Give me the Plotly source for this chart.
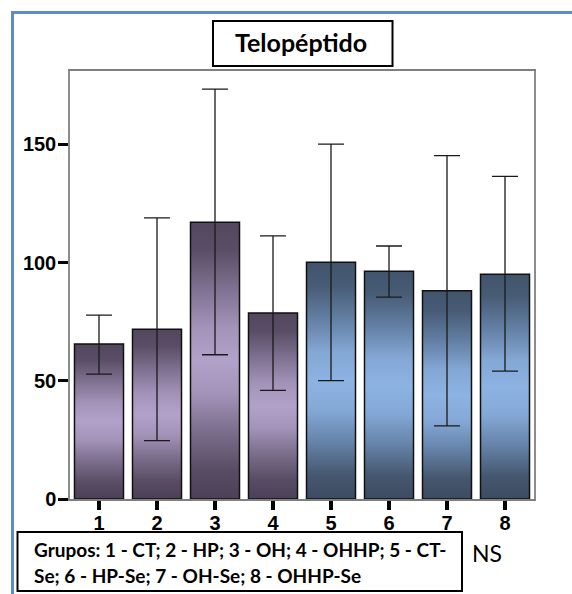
import plotly.graph_objects as go

# Group means and error-bar limits (Telopéptido)
groups = [1, 2, 3, 4, 5, 6, 7, 8]
means = [65.5, 71.8, 117.0, 78.7, 100.1, 96.3, 88.1, 95.0]
upper = [77.8, 118.9, 173.3, 111.3, 150.1, 107.0, 145.2, 136.4]
lower = [52.8, 24.7, 61.0, 45.9, 50.1, 85.4, 30.9, 54.1]
palette_key = ["purple", "purple", "purple", "purple", "blue", "blue", "blue", "blue"]
y_ticks = [0, 50, 100, 150]

title_text = "Telopéptido"
legend_line1 = "Grupos: 1 - CT; 2 - HP; 3 - OH; 4 - OHHP; 5 - CT-"
legend_line2 = "Se; 6 - HP-Se; 7 - OH-Se; 8 - OHHP-Se"
ns_text = "NS"

BAR_W = 0.845

# vertical gradients, bottom (0) -> top (1): dark, light middle, dark
gradients = {
    "purple": [
        [0.0, "#4b4056"], [0.1, "#574c63"], [0.25, "#7d6f8e"], [0.38, "#a393b9"],
        [0.5, "#b2a2ca"], [0.62, "#a393b9"], [0.76, "#7f7191"], [0.9, "#594e66"],
        [1.0, "#52475d"],
    ],
    "blue": [
        [0.0, "#3c4b61"], [0.1, "#45576f"], [0.25, "#6886ad"], [0.38, "#85a9d7"],
        [0.5, "#8db3e3"], [0.62, "#84a7d4"], [0.76, "#637fa3"], [0.9, "#485c76"],
        [1.0, "#41546c"],
    ],
}

fig = go.Figure()

# bars: rectangles spanning 0..mean, filled with a vertical gradient
for g, m, key in zip(groups, means, palette_key):
    x0, x1 = g - BAR_W / 2, g + BAR_W / 2
    fig.add_trace(go.Scatter(
        x=[x0, x1, x1, x0, x0],
        y=[0, 0, m, m, 0],
        mode="lines",
        line=dict(width=1.5, color="#111111"),
        fill="toself",
        fillgradient=dict(type="vertical", colorscale=gradients[key], start=0, stop=m),
        hoverinfo="skip",
        showlegend=False,
    ))

# asymmetric error bars centred on each mean
fig.add_trace(go.Scatter(
    x=groups,
    y=means,
    mode="markers",
    marker=dict(size=0.1, color="rgba(0,0,0,0)"),
    error_y=dict(
        type="data",
        symmetric=False,
        array=[u - m for u, m in zip(upper, means)],
        arrayminus=[m - l for m, l in zip(means, lower)],
        color="#1a1a1a",
        thickness=1.3,
        width=13,
    ),
    hoverinfo="skip",
    showlegend=False,
))

tick_font = dict(family="Liberation Sans, Arial, sans-serif", size=20, color="black", weight="bold")

fig.update_xaxes(
    range=[0.5, 8.5],
    tickvals=groups,
    ticktext=[str(g) for g in groups],
    ticks="outside",
    ticklen=9,
    tickwidth=4,
    tickcolor="black",
    tickfont=tick_font,
    ticklabelstandoff=-4,
    showline=True,
    linecolor="#7f7f7f",
    linewidth=1.5,
    mirror=True,
    showgrid=False,
    zeroline=False,
)
fig.update_yaxes(
    range=[0, 181],
    tickvals=y_ticks,
    ticks="outside",
    ticklen=10,
    tickwidth=3,
    tickcolor="black",
    tickfont=tick_font,
    ticklabelstandoff=-2,
    showline=True,
    linecolor="#8c8c8c",
    linewidth=1.5,
    mirror=True,
    showgrid=False,
    zeroline=False,
)

L, R, T, B = 70, 38, 71, 95
W, H = 572, 594
PW, PH = W - L - R, H - T - B


def px(x):
    return (x - L) / PW


def py(y):
    return (H - B - y) / PH


shapes = [
    # blue page frame (top and left edges)
    dict(type="path", xref="paper", yref="paper",
         path=f"M {px(12.5)},{py(600)} L {px(12.5)},{py(12.5)} L {px(580)},{py(12.5)}",
         line=dict(color="#5b8bd1", width=3)),
    # title box
    dict(type="rect", xref="paper", yref="paper",
         x0=px(213), x1=px(392.5), y0=py(66), y1=py(21),
         line=dict(color="black", width=2), fillcolor="white"),
    # group legend box
    dict(type="rect", xref="paper", yref="paper",
         x0=px(17.5), x1=px(462), y0=py(591), y1=py(532),
         line=dict(color="black", width=2), fillcolor="rgba(0,0,0,0)"),
]

label_font = dict(family="Lato, Carlito, Calibri, sans-serif", size=19, color="black", weight="bold")
annotations = [
    dict(text=title_text, xref="paper", yref="paper", x=px(301), y=py(42),
         xanchor="center", yanchor="middle", showarrow=False,
         font=dict(family="Lato, Carlito, Calibri, sans-serif", size=25, color="black", weight="bold")),
    dict(text=legend_line1, xref="paper", yref="paper", x=px(32), y=py(549),
         xanchor="left", yanchor="middle", showarrow=False, font=label_font),
    dict(text=legend_line2, xref="paper", yref="paper", x=px(32), y=py(575),
         xanchor="left", yanchor="middle", showarrow=False, font=label_font),
    dict(text=ns_text, xref="paper", yref="paper", x=px(470), y=py(553),
         xanchor="left", yanchor="middle", showarrow=False,
         font=dict(family="Lato, Carlito, Calibri, sans-serif", size=23, color="black")),
]

fig.update_layout(
    width=W,
    height=H,
    margin=dict(l=L, r=R, t=T, b=B, pad=0),
    paper_bgcolor="white",
    plot_bgcolor="white",
    shapes=shapes,
    annotations=annotations,
    showlegend=False,
)

fig.write_html("out.html")
